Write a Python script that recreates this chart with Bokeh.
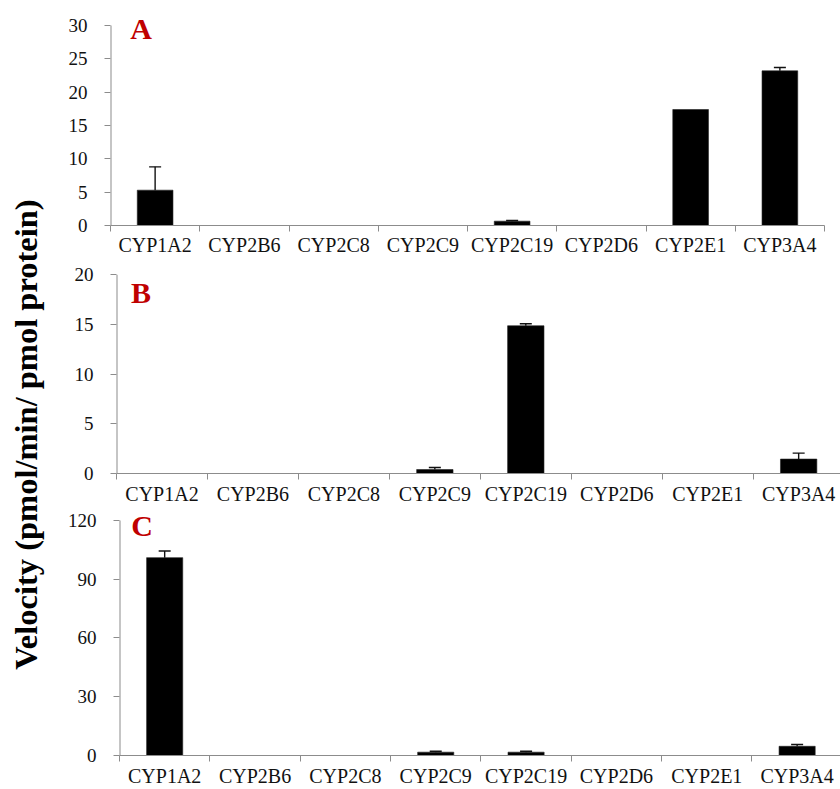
import math
from bokeh.plotting import figure
from bokeh.models import Range1d, FixedTicker, Label
from bokeh.layouts import column, row
from bokeh.embed import file_html
from bokeh.resources import INLINE
from bokeh.core.properties import value

isoforms = ["CYP1A2", "CYP2B6", "CYP2C8", "CYP2C9", "CYP2C19", "CYP2D6", "CYP2E1", "CYP3A4"]

velocity_a = [5.3, 0, 0, 0, 0.65, 0, 17.4, 23.2]
error_a = [3.5, 0, 0, 0, 0.1, 0, 0, 0.5]
velocity_b = [0, 0, 0, 0.4, 14.85, 0, 0, 1.45]
error_b = [0, 0, 0, 0.2, 0.2, 0, 0, 0.6]
velocity_c = [101, 0, 0, 1.7, 1.7, 0, 0, 4.7]
error_c = [3.4, 0, 0, 0.5, 0.5, 0, 0, 0.9]

ticks_a = [0, 5, 10, 15, 20, 25, 30]
ticks_b = [0, 5, 10, 15, 20]
ticks_c = [0, 30, 60, 90, 120]

panel_letters = ["A", "B", "C"]
y_title = "Velocity (pmol/min/ pmol protein)"

FONT = "Liberation Serif"
AXIS_GRAY = "#8c8c8c"
LETTER_RED = "#c00000"
PANEL_W = 780
LABEL_W = 60
TOTAL_H = 789
X_START = 0.5


def make_panel(vals, errs, yticks, y_headroom, letter, letter_pos, height, b_left, b_top, b_bottom,
               b_right, x_end, standoff):
    n = len(isoforms)
    centers = list(range(1, n + 1))
    p = figure(width=PANEL_W, height=height, output_backend="svg", toolbar_location=None,
               x_range=Range1d(X_START, x_end), y_range=Range1d(yticks[0], yticks[-1] + y_headroom),
               min_border_left=b_left, min_border_top=b_top, min_border_bottom=b_bottom,
               min_border_right=b_right)
    p.frame_align = False
    p.outline_line_color = None
    p.grid.visible = False
    p.background_fill_color = "white"
    p.border_fill_color = "white"

    # y-axis line drawn only up to the top tick
    p.segment(x0=[X_START], y0=[yticks[0]], x1=[X_START], y1=[yticks[-1]],
              line_color=AXIS_GRAY, line_width=2)

    p.vbar(x=centers, top=vals, width=0.4, fill_color="black", line_color="#222222", line_width=0.6)

    ex = [c for c, e in zip(centers, errs) if e > 0]
    elo = [v for v, e in zip(vals, errs) if e > 0]
    ehi = [v + e for v, e in zip(vals, errs) if e > 0]
    p.segment(x0=ex, y0=elo, x1=ex, y1=ehi, line_color="#111111", line_width=1.4)
    p.scatter(x=ex, y=ehi, marker="dash", size=12, line_color="#111111", line_width=1.4)

    ya = p.yaxis[0]
    ya.ticker = FixedTicker(ticks=yticks, minor_ticks=[])
    ya.axis_line_color = None
    ya.major_tick_line_color = AXIS_GRAY
    ya.major_tick_out = 6
    ya.major_tick_in = 0
    ya.major_label_standoff = 17
    ya.major_label_text_font = FONT
    ya.major_label_text_font_size = "19px"
    ya.major_label_text_color = "#111111"

    xa = p.xaxis[0]
    xa.ticker = FixedTicker(ticks=centers, minor_ticks=[c - 0.5 for c in centers] + [n + 0.5])
    xa.major_label_overrides = {c: name for c, name in zip(centers, isoforms)}
    xa.axis_line_color = AXIS_GRAY
    xa.major_tick_line_color = None
    xa.major_tick_out = 0
    xa.major_tick_in = 0
    xa.minor_tick_line_color = AXIS_GRAY
    xa.minor_tick_out = 6
    xa.minor_tick_in = 0
    xa.major_label_standoff = standoff
    xa.major_label_text_font = FONT
    xa.major_label_text_font_size = "20px"
    xa.major_label_text_color = "#111111"

    p.add_layout(Label(x=letter_pos[0], y=letter_pos[1], text=letter, text_font=FONT,
                       text_font_style="bold", text_font_size="30px", text_color=LETTER_RED,
                       text_baseline="alphabetic", text_align="left"))
    return p


# panel A: 200 px for 0-30, extra 10 px headroom for the letter
pa = make_panel(velocity_a, error_a, ticks_a, 1.5, panel_letters[0], (0.72, 29.6),
                262, 50, 15, 37, 16, 8.5, 2)
pb = make_panel(velocity_b, error_b, ticks_b, 0, panel_letters[1], (0.66, 18.15),
                245, 56, 12, 34, 0, 8.46, 3)
# panel C: 236 px for 0-120 plus 4 px headroom
pc = make_panel(velocity_c, error_c, ticks_c, 2, panel_letters[2], (0.63, 117.5),
                282, 59, 9, 33, 0, 8.48, 3)

lab = figure(width=LABEL_W, height=TOTAL_H, output_backend="svg", toolbar_location=None,
             x_range=Range1d(0, LABEL_W), y_range=Range1d(0, TOTAL_H),
             x_axis_location=None, y_axis_location=None, min_border=0)
lab.frame_align = False
lab.outline_line_color = None
lab.grid.visible = False
lab.background_fill_color = "white"
lab.border_fill_color = "white"
lab.text(x=[25], y=[355], text=[y_title], angle=math.pi / 2, text_align="center",
         text_baseline="alphabetic", text_font=value(FONT), text_font_style="bold",
         text_font_size="32.5px", text_color="black")

layout = row(lab, column(pa, pb, pc))

open("out.html", "w").write(file_html(layout, INLINE))
